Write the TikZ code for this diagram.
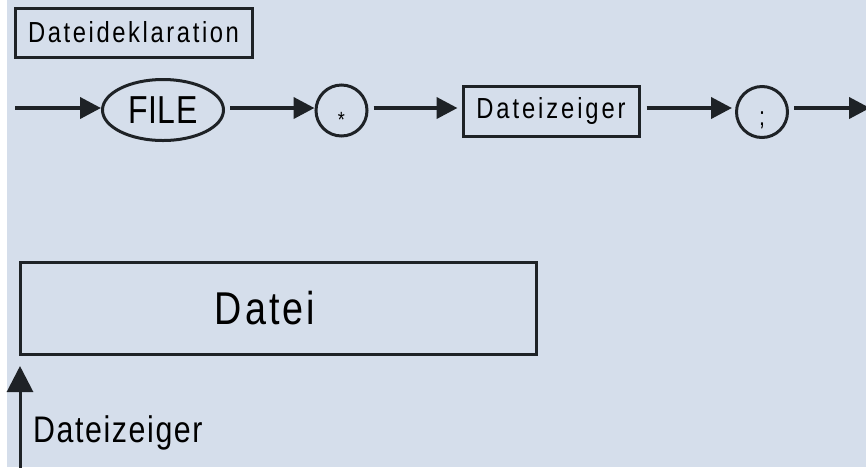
\documentclass[tikz,border=0pt]{standalone}
\usepackage{fontspec}
\setmainfont{Liberation Sans}[FakeStretch=0.82,LetterSpace=9]
\usetikzlibrary{arrows.meta,shapes.geometric}

\definecolor{bgblue}{HTML}{D5DEEB}
\definecolor{ink}{HTML}{1E2226}

\tikzset{
  conn/.style={ink,line width=4pt,-{Triangle[length=21pt,width=21pt]}},
  namebox/.style={draw=ink,line width=3pt,inner sep=0pt},
  terminal/.style={draw=ink,line width=3pt,inner sep=0pt}
}

\begin{document}
\begin{tikzpicture}[x=1pt,y=-1pt]
        \useasboundingbox (0,0) rectangle (866,467);
        \fill [bgblue] (7,0) rectangle (866,467);

        \node [namebox,minimum width=237pt,minimum height=49pt,font=\fontsize{29}{30}\selectfont] at (133.5,32.5) (decl){Dateideklaration};

        \coordinate (in) at (15,108);
        \node [terminal,ellipse,minimum width=121pt,minimum height=61pt,font=\fontsize{39}{40}\selectfont\addfontfeature{LetterSpace=1}] at (163,110) (file){FILE};
        \node [terminal,circle,minimum size=51pt,label={[yshift=-9pt,font=\fontsize{22}{22}\selectfont]center:*}] at (341.5,110.5) (star){};
        \node [namebox,minimum width=176pt,minimum height=50pt,font=\fontsize{29}{30}\selectfont\addfontfeature{LetterSpace=10}] at (551,111) (zeiger){Dateizeiger};
        \node [terminal,circle,minimum size=51pt,label={[yshift=-8pt,font=\fontsize{26}{26}\selectfont]center:;}] at (762,112) (semi){};
        \coordinate (out) at (870,108);

        \draw [conn] (in) -- (in -| file.west);
        \draw [conn] (in -| file.east) ++(5pt,0) -- (in -| star.west);
        \draw [conn] (in -| star.east) ++(5pt,0) -- ([xshift=-4pt]in -| zeiger.west);
        \draw [conn] (in -| zeiger.east) ++(6pt,0) -- ([xshift=-3pt]in -| semi.west);
        \draw [conn] (in -| semi.east) ++(5pt,0) -- (out);

        \node [namebox,minimum width=516pt,minimum height=92pt,font=\fontsize{46}{48}\selectfont\addfontfeature{LetterSpace=6.5}] at (278,308) (datei){Datei\hspace*{26pt}};

        \coordinate (ptr) at (20,470);
        \coordinate (tip) at (20,366);
        \draw [conn,line width=3pt,-{Triangle[length=26pt,width=26pt]}] (ptr) -- (tip);
        \node [anchor=base west,inner sep=0pt,font=\fontsize{37}{38}\selectfont\addfontfeature{LetterSpace=4.3}] at (33,442) (ptrlabel){Dateizeiger};
\end{tikzpicture}
\end{document}
